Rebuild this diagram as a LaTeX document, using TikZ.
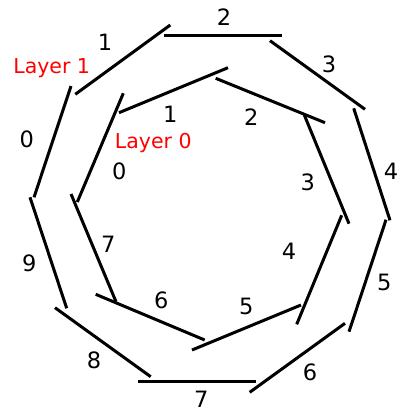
\documentclass[tikz,border=0pt]{standalone}
\usepackage{fontspec}
\setmainfont{DejaVu Sans}
\usepackage{tikz}
\usetikzlibrary{positioning}

\begin{document}
\begin{tikzpicture}[x=1pt,y=-1pt,
  seg/.style={line width=3pt},
  num/.style={font=\fontsize{22.5}{26}\selectfont},
  lay/.style={text=red,anchor=base,font=\fontsize{20.5}{24}\selectfont}]

  \useasboundingbox (0,0) rectangle (415,415);

  % outer ring, layer 1
  \draw [seg] (34,197.3) -- (71,86);
  \draw [seg] (75.3,94.3) -- (170.3,25);
  \draw [seg] (164,35.6) -- (282,35.6);
  \draw [seg] (270,40.7) -- (365,109.3);
  \draw [seg] (353.7,108.3) -- (390,220.3);
  \draw [seg] (386,219.7) -- (349,331.7);
  \draw [seg] (345,323.3) -- (249.7,392.3);
  \draw [seg] (256.3,381.7) -- (138.3,381.7);
  \draw [seg] (150.7,376.7) -- (55,307.7);
  \draw [seg] (66.7,308.3) -- (30,197.3);

  % inner ring, layer 0
  \draw [seg] (77.3,202) -- (123.3,93.3);
  \draw [seg] (119,112.7) -- (228,67.7);
  \draw [seg] (215.7,78.3) -- (325,122.7);
  \draw [seg] (304.3,115) -- (349,223.7);
  \draw [seg] (341.7,215.3) -- (296.7,324.3);
  \draw [seg] (301,305) -- (192,350);
  \draw [seg] (204.7,340) -- (95.7,294.3);
  \draw [seg] (116,301.7) -- (71,194);


  \node [num] (o0) at (26.7,139.3) {0};
  \node [num] (o1) at (105,42.7) {1};
  \node [num] (o2) at (224,16.7) {2};
  \node [num] (o3) at (329,64.3) {3};
  \node [num] (o4) at (391,171.3) {4};
  \node [num] (o5) at (384.3,282.3) {5};
  \node [num] (o6) at (310,372.3) {6};
  \node [num] (o7) at (201.3,399) {7};
  \node [num] (o8) at (94,360) {8};
  \node [num] (o9) at (29.3,263.7) {9};

  \node [num] (i0) at (119.3,171.3) {0};
  \node [num] (i1) at (170.3,114.3) {1};
  \node [num] (i2) at (251.3,117.3) {2};
  \node [num] (i3) at (307.7,182) {3};
  \node [num] (i4) at (289,251.3) {4};
  \node [num] (i5) at (246.3,306.7) {5};
  \node [num] (i6) at (161.3,300) {6};
  \node [num] (i7) at (108.3,244) {7};


  \node [lay] (layer1) at (51.7,73.3) {Layer 1};
  \node [lay] (layer0) at (153.3,148.3) {Layer 0};

\end{tikzpicture}
\end{document}
